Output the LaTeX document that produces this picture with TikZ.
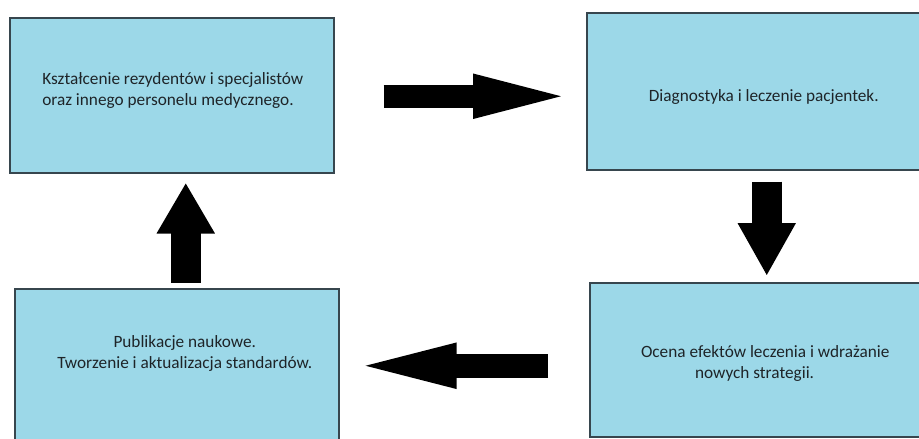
\documentclass[tikz,border=0pt]{standalone}
\usepackage{fontspec}
\setmainfont{Carlito}
\usetikzlibrary{arrows.meta}
\definecolor{boxblue}{RGB}{156,216,232}
\definecolor{boxline}{RGB}{55,70,78}
\definecolor{txtgray}{RGB}{30,36,40}

\begin{document}
\begin{tikzpicture}[
  x=1pt, y=-1pt,
  box/.style={rectangle,draw=boxline,fill=boxblue,line width=1.5pt,anchor=north west,inner sep=0pt},
  boxtext/.style={text=txtgray,font=\fontsize{17.25}{21}\selectfont,align=center,inner sep=0pt},
  blockarrow/.style n args={3}{draw=black,line width=#1,-{Triangle[length=#2,width=#3,line width=2pt]}}]

  \useasboundingbox (0,0) rectangle (919,439);

  \node(kszt) [box,minimum width=324pt,minimum height=155pt] at (9,17)   {};
  \node(diag) [box,minimum width=354pt,minimum height=157pt] at (586,12) {};
  \node(publ) [box,minimum width=324pt,minimum height=157pt] at (14,288) {};
  \node(ocena)[box,minimum width=351pt,minimum height=154pt] at (589,282){};

  \node(kszt-txt) [boxtext,align=left] at ([shift={(1pt,5pt)}]kszt.center)
    {Kształcenie rezydentów i specjalistów\\oraz innego personelu medycznego.};
  \node(diag-txt) [boxtext] at ([yshift=-5.5pt]diag.center)
    {Diagnostyka i leczenie pacjentek.};
  \node(publ-txt) [boxtext] at ([shift={(8pt,13.5pt)}]publ.center)
    {Publikacje naukowe.\\Tworzenie i aktualizacja standardów.};
  \node(ocena-txt)[boxtext,align=left] at ([yshift=-3.5pt]ocena.center)
    {Ocena efektów leczenia i wdrażanie\\\hspace*{54pt}nowych strategii.};

  \draw[blockarrow={23pt}{88pt}{45pt},shorten <=49pt,shorten >=25pt]
    ([yshift=-1pt]kszt.east) -- ([yshift=-1pt]kszt.east -| diag.west);
  \draw[blockarrow={30pt}{52pt}{58pt},shorten <=11pt,shorten >=7pt]
    ([xshift=3pt]diag.south) -- ([xshift=3pt]diag.south |- ocena.north);
  \draw[blockarrow={24pt}{91pt}{46pt},shorten <=41pt,shorten >=26pt]
    ([yshift=-6pt]ocena.west) -- ([yshift=-6pt]ocena.west -| publ.east);
  \draw[blockarrow={30pt}{50pt}{58pt},shorten <=5.5pt,shorten >=10pt]
    ([xshift=9pt]publ.north) -- ([xshift=9pt]publ.north |- kszt.south);

\end{tikzpicture}
\end{document}
